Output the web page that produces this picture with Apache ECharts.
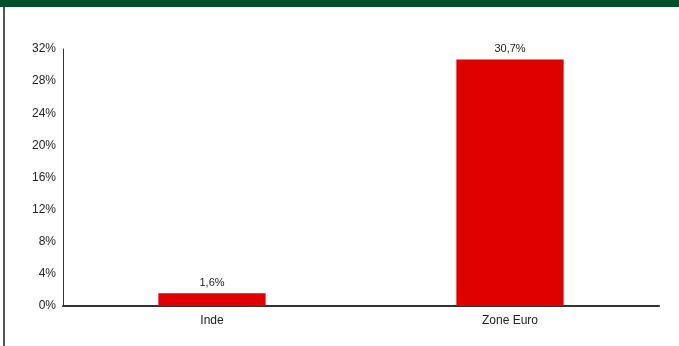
<!DOCTYPE html>
<html><head><meta charset="utf-8">
<script src="https://cdn.jsdelivr.net/npm/echarts@6/dist/echarts.min.js"></script>
<style>html,body{margin:0;padding:0;background:#fff}#c{width:679px;height:346px}</style>
</head><body><div id="c"></div>
<script>
const categories = ['Inde', 'Zone Euro'];
const values = [1.6, 30.7];
const yTicks = [0, 4, 8, 12, 16, 20, 24, 28, 32];

const chart = echarts.init(document.getElementById('c'));
chart.setOption({
  animation: false,
  backgroundColor: '#fff',
  graphic: [
    {type: 'rect', shape: {x: 0, y: 0, width: 679, height: 7}, style: {fill: '#005030'}},
    {type: 'rect', shape: {x: 3, y: 7, width: 2, height: 339}, style: {fill: '#555'}}
  ],
  grid: {left: 63, right: 20, top: 49, bottom: 40},
  xAxis: {
    type: 'category', data: categories,
    axisLine: {lineStyle: {color: '#333', width: 2}},
    axisTick: {show: false},
    axisLabel: {color: '#222', fontFamily: 'Liberation Sans, Arial', fontSize: 12, margin: 9}
  },
  yAxis: {
    type: 'value', min: yTicks[0], max: yTicks[yTicks.length - 1], interval: 4,
    axisLine: {show: true, lineStyle: {color: '#333', width: 1}},
    axisTick: {show: false},
    splitLine: {show: false},
    axisLabel: {color: '#222', fontFamily: 'Liberation Sans, Arial', fontSize: 12, margin: 7,
      formatter: v => v + '%'}
  },
  series: [{
    type: 'bar', data: values, barWidth: '36%',
    itemStyle: {color: '#e00000'},
    label: {show: true, position: 'top', color: '#222', fontFamily: 'Liberation Sans, Arial', fontSize: 11,
      formatter: p => String(p.value).replace('.', ',') + '%'}
  }]
});
</script></body></html>
